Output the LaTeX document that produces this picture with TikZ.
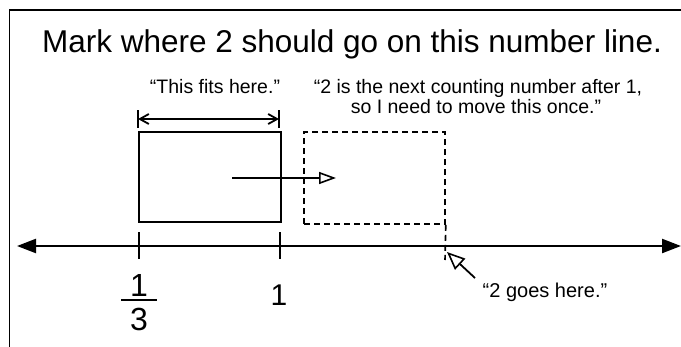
\documentclass[tikz,border=0pt]{standalone}
\usepackage{fontspec}
\setmainfont{Liberation Sans}
\usetikzlibrary{arrows.meta}
\tikzset{
  txt/.style={inner sep=0pt, anchor=base, font=\fontsize{19.5}{21}\selectfont},
  big/.style={inner sep=0pt, anchor=base},
  solidbox/.style={draw, line width=1.8pt, inner sep=0pt},
  dashbox/.style={draw, line width=1.6pt, inner sep=0pt, dash pattern=on 6pt off 4pt},
  thin/.style={line width=1.8pt},
  openhead/.style={-{Triangle[open, length=17pt, width=12pt, line width=1.6pt]}},
  bighead/.style={-{Triangle[open, length=18pt, width=15pt, line width=1.6pt]}},
}
\begin{document}
\begin{tikzpicture}[x=1pt, y=-1pt]
\useasboundingbox (0,0) rectangle (681,346);
% frame (top and left edges only visible)
\coordinate (fbl) at (9.5,350);
\coordinate (ftl) at (9.5,10);
\coordinate (ftr) at (690,10);
\draw[thin] (fbl) -- (ftl) -- (ftr);

% title
\node[big, font=\fontsize{31.5}{36}\selectfont] (title) at (352,52) {Mark where 2 should go on this number line.};

% quotes
\node[txt] (fits) at (215,93) {“This fits here.”};
\node[txt] (next1) at (478,93) {“2 is the next counting number after 1,};
\node[txt] (next2) at (476,113) {so I need to move this once.”};

% width dimension arrow
\coordinate (dl1) at (138,110); \coordinate (dl2) at (138,128);
\coordinate (dr1) at (279,110); \coordinate (dr2) at (279,128);
\coordinate (dl) at (138,119); \coordinate (dr) at (279,119);
\draw[thin] (dl1) -- (dl2);
\draw[thin] (dr1) -- (dr2);
\draw[thin, {Straight Barb[length=9pt,width=10pt]}-{Straight Barb[length=9pt,width=10pt]}] (dl) -- (dr);

% boxes
\node[solidbox, minimum width=141.5pt, minimum height=90pt] (box) at (210,177) {};
\node[dashbox, minimum width=141pt, minimum height=92pt] (ghost) at (374.5,178) {};

% move arrow
\coordinate (ma) at (232,178);
\coordinate (mb) at (336,178);
\draw[thin, openhead] (ma) -- (mb);

% dashed drop line
\coordinate (drop) at (445,260);
\draw[dashbox] (ghost.south east) -- (drop);

% number line
\coordinate (nl) at (17,246);
\coordinate (nr) at (681,246);
\draw[line width=2.3pt, {Triangle[length=19pt,width=14pt]}-{Triangle[length=19pt,width=14pt]}] (nl) -- (nr);

% ticks
\coordinate (t1a) at (139,232); \coordinate (t1b) at (139,259);
\coordinate (t2a) at (280,232); \coordinate (t2b) at (280,259);
\draw[thin] (t1a) -- (t1b);
\draw[thin] (t2a) -- (t2b);

% labels
\node[big, font=\fontsize{32}{36}\selectfont] (num) at (139,296) {1};
\coordinate (fb1) at (121,300); \coordinate (fb2) at (157,300);
\draw[thin] (fb1) -- (fb2);
\node[big, font=\fontsize{32}{36}\selectfont] (den) at (139,330) {3};
\node[big, font=\fontsize{30}{34}\selectfont] (one) at (279,305) {1};

% pointer
\coordinate (ptail) at (475,278);
\coordinate (ptip) at (447,252);
\draw[thin, bighead] (ptail) -- (ptip);
\node[txt, font=\fontsize{20}{22}\selectfont] (goes) at (545,297) {“2 goes here.”};
\end{tikzpicture}
\end{document}
